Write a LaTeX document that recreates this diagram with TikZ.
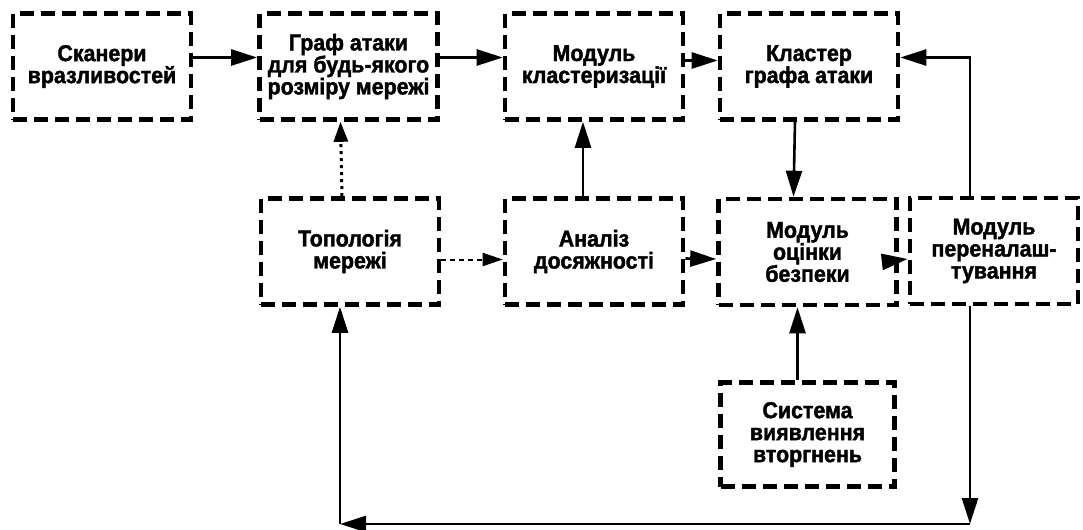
\documentclass[tikz,border=0pt]{standalone}
\usepackage{fontspec}
\newfontfamily\blockfont{Liberation Sans}[BoldFont={* Bold},BoldFeatures={FakeBold=1.6},FakeStretch=0.93]
\usepackage{tikz}
\usetikzlibrary{positioning,calc,arrows.meta}

\begin{document}
\begin{tikzpicture}[x=0.5pt,y=-0.5pt,
 font=\blockfont\bfseries\fontsize{11.5}{11}\selectfont,
 blk/.style={draw,line width=2.3pt,dash pattern=on 7pt off 3.5pt,minimum width=89pt,minimum height=53pt,align=center,inner sep=1pt},
 conn/.style={line width=1.3pt,-{Triangle[length=13pt,width=8pt]}},
 dotconn/.style={line width=1.5pt,dotted,-{Triangle[length=10pt,width=7pt]}},
 dashconn/.style={line width=1pt,dash pattern=on 2.5pt off 2pt,-{Triangle[length=10pt,width=6.5pt]}}]
\useasboundingbox (0,0) rectangle (1083,530);
% first row
\node[blk] (scan) at (102,66.5) {Сканери\\вразливостей};
\node[blk] (graph) at (348.5,66.5) {Граф атаки\\для будь-якого\\розміру мережі};
\node[blk] (clmod) at (594,66.5) {Модуль\\кластеризації};
\node[blk] (clust) at (809,66.5) {Кластер\\графа атаки};
% second row
\node[blk] (topo) at (350,251.5) {Топологія\\мережі};
\node[blk] (reach) at (594,251.5) {Аналіз\\досяжності};
\node[blk] (secur) at (807.5,252) {Модуль\\оцінки\\безпеки};
\node[blk,minimum width=84pt] (reconf) at (994,251) {Модуль\\переналаш-\\тування};
% third row
\node[blk,minimum width=87pt,minimum height=52pt] (ids) at (807.5,434.5) {Система\\виявлення\\вторгнень};
\coordinate (cr) at (970,524);
\coordinate (cl) at (340,524);
% connectors
\draw[conn] ([yshift=4.5pt]scan.east) -- ([yshift=4.5pt]graph.west);
\draw[conn] ([yshift=4.5pt]graph.east) -- ([yshift=4.5pt]clmod.west);
\draw[conn] ([yshift=3pt]clmod.east) -- ([yshift=3pt]clust.west);
\draw[conn] ([xshift=-12pt]reconf.north) |- ([yshift=4.5pt]clust.east);
\draw[conn] ([xshift=-7pt]clust.south) -- ([xshift=-7pt]secur.north);
\draw[conn] ([xshift=-5.5pt]reach.north) -- ([xshift=-5.5pt]clmod.south);
\draw[dotconn] ([xshift=-4pt]topo.north) -- ([xshift=-4pt]graph.south);
\draw[dashconn] ([yshift=-4pt]topo.east) -- ([yshift=-4pt]reach.west);
\draw[conn] ([yshift=-3.5pt]reach.east) -- ([yshift=-3.5pt]secur.west);
\draw[conn] ([yshift=-4pt]secur.east) -- ([yshift=-4pt]reconf.west);
\draw[conn] ([xshift=-5pt]ids.north) -- ([xshift=-5pt]secur.south);
\draw[conn] (reconf.south -| cr) -- (cr);
\draw[conn] (cr) -- (cl);
\draw[conn] (cl) -- (cl |- topo.south);
\end{tikzpicture}
\end{document}
